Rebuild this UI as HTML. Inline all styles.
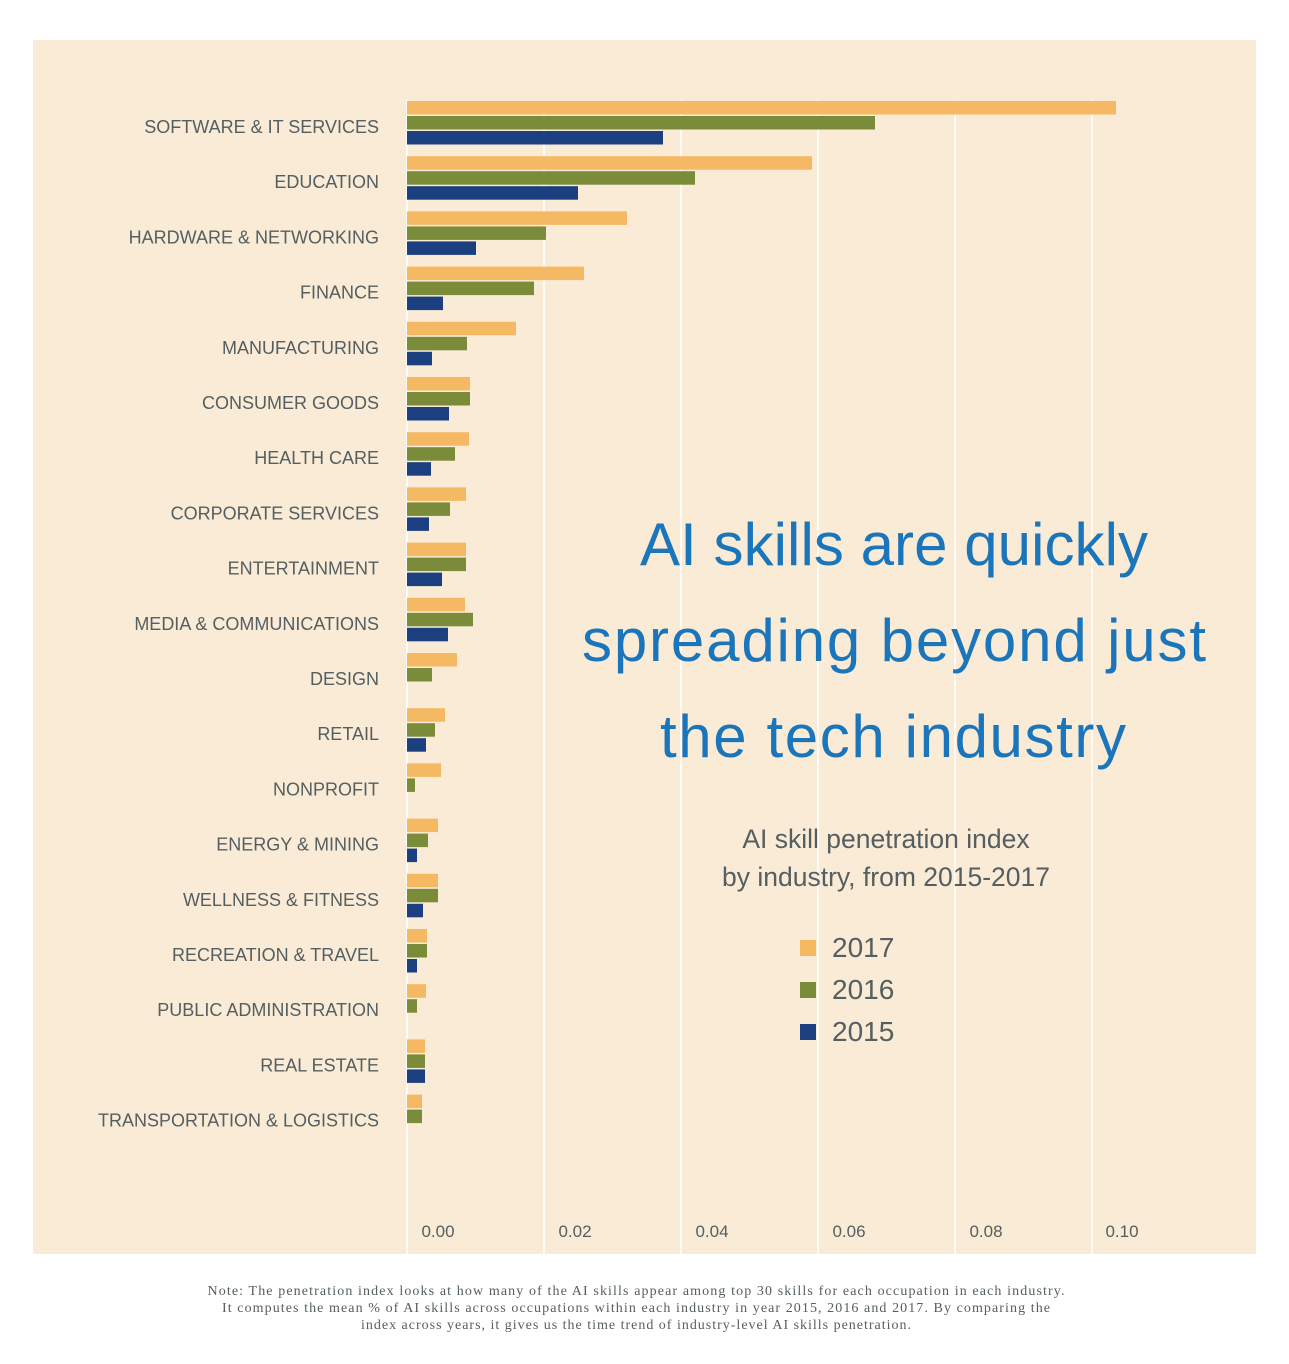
<!DOCTYPE html>
<html><head><meta charset="utf-8"><style>
body{margin:0;background:#fff;}
svg{display:block;font-family:"Liberation Sans",sans-serif;}
</style></head><body>
<svg width="1289" height="1364" viewBox="0 0 1289 1364">
<rect x="0" y="0" width="1289" height="1364" fill="#fff"/>
<rect x="33" y="40" width="1223" height="1214" fill="#f9ebd6"/>
<g stroke="#fff" stroke-width="1.5">
<line x1="407" y1="100" x2="407" y2="1254"/>
<line x1="544" y1="100" x2="544" y2="1254"/>
<line x1="681" y1="100" x2="681" y2="1254"/>
<line x1="818" y1="100" x2="818" y2="1254"/>
<line x1="955" y1="100" x2="955" y2="1254"/>
<line x1="1092" y1="100" x2="1092" y2="1254"/>
</g>
<g id="bars"></g>
<g font-size="18" fill="#555e60" text-anchor="end" id="labels"></g>
<g font-size="17" fill="#555e60" text-anchor="middle">
<text x="438" y="1237">0.00</text><text x="575" y="1237">0.02</text><text x="712" y="1237">0.04</text><text x="849" y="1237">0.06</text><text x="986" y="1237">0.08</text><text x="1122" y="1237">0.10</text>
</g>
<g fill="#1a75bb" font-size="60" text-anchor="middle">
<text x="894" y="565" textLength="508">AI skills are quickly</text>
<text x="894" y="661" textLength="624">spreading beyond just</text>
<text x="893" y="757" textLength="466">the tech industry</text>
</g>
<g fill="#555e60" font-size="26.5" text-anchor="middle">
<text x="886" y="848">AI skill penetration index</text>
<text x="886" y="886">by industry, from 2015-2017</text>
</g>
<rect x="800" y="940" width="16" height="16" fill="#f5b963"/>
<rect x="800" y="982" width="16" height="16" fill="#7a8c3a"/>
<rect x="800" y="1024" width="16" height="16" fill="#1c3f7f"/>
<g fill="#555e60" font-size="28">
<text x="832" y="957">2017</text><text x="832" y="999">2016</text><text x="832" y="1041">2015</text>
</g>
<g fill="#555e60" font-size="14" text-anchor="middle" font-family="Liberation Serif, serif">
<text x="636" y="1295" textLength="857">Note: The penetration index looks at how many of the AI skills appear among top 30 skills for each occupation in each industry.</text>
<text x="636" y="1312" textLength="828">It computes the mean % of AI skills across occupations within each industry in year 2015, 2016 and 2017. By comparing the</text>
<text x="636" y="1329" textLength="550">index across years, it gives us the time trend of industry-level AI skills penetration.</text>
</g>
</svg>
<script>
var d=[["SOFTWARE & IT SERVICES",1116,875,663],["EDUCATION",812,695,578],["HARDWARE & NETWORKING",627,546,476],["FINANCE",584,534,443],["MANUFACTURING",516,467,432],["CONSUMER GOODS",470,470,449],["HEALTH CARE",469,455,431],["CORPORATE SERVICES",466,450,429],["ENTERTAINMENT",466,466,442],["MEDIA & COMMUNICATIONS",465,473,448],["DESIGN",457,432,0],["RETAIL",445,435,426],["NONPROFIT",441,415,0],["ENERGY & MINING",438,428,417],["WELLNESS & FITNESS",438,438,423],["RECREATION & TRAVEL",427,427,417],["PUBLIC ADMINISTRATION",426,417,0],["REAL ESTATE",425,425,425],["TRANSPORTATION & LOGISTICS",422,422,0]];
var c=["#f5b963","#7a8c3a","#1c3f7f"],ns="http://www.w3.org/2000/svg",b=document.getElementById("bars"),l=document.getElementById("labels");
d.forEach(function(r,i){var y0=101+i*55.2;for(var k=0;k<3;k++){if(!r[k+1])continue;var e=document.createElementNS(ns,"rect");e.setAttribute("x",407);e.setAttribute("y",y0+k*15);e.setAttribute("width",r[k+1]-407);e.setAttribute("height",13.5);e.setAttribute("fill",c[k]);b.appendChild(e);}
var t=document.createElementNS(ns,"text");t.setAttribute("x",379);t.setAttribute("y",y0+32);t.textContent=r[0];l.appendChild(t);});
</script>
</body></html>
